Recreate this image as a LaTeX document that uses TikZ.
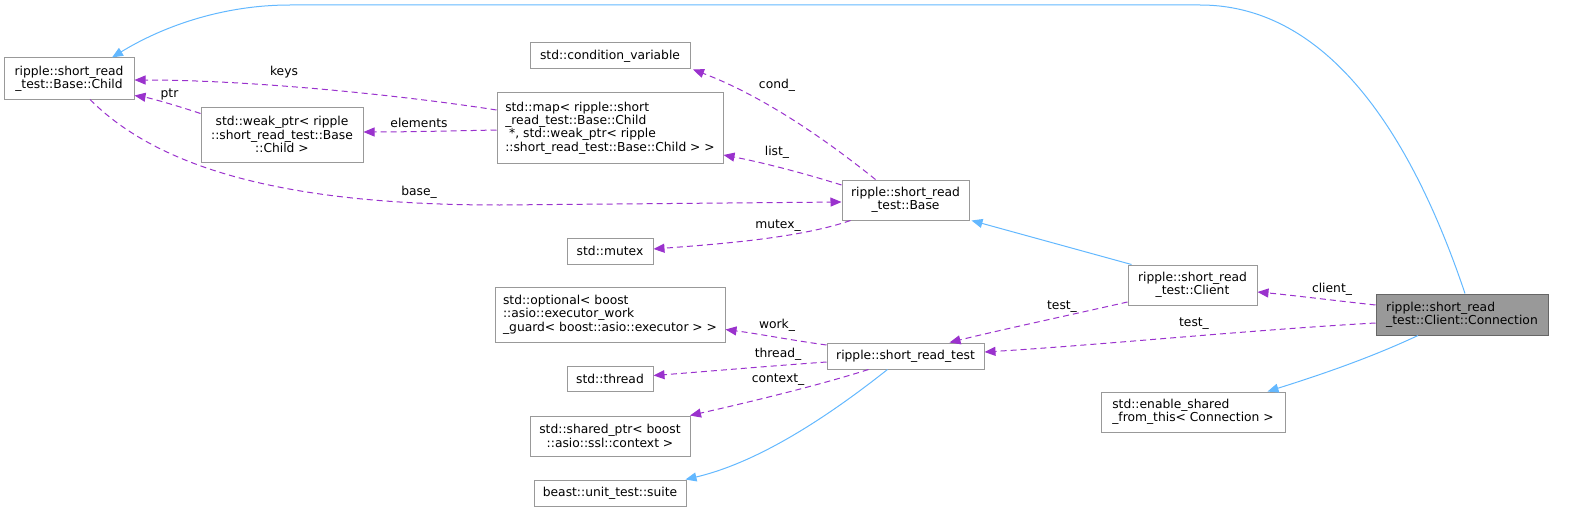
\documentclass[tikz,border=0pt]{standalone}
\usepackage{fontspec}
\setmainfont{DejaVu Sans}
\usetikzlibrary{arrows.meta}
\definecolor{inh}{HTML}{63B8FF}
\definecolor{mem}{HTML}{9A32CD}
\definecolor{bord}{HTML}{999999}
\definecolor{connfill}{HTML}{999999}
\definecolor{connbord}{HTML}{666666}
\begin{document}
\begin{tikzpicture}[x=1pt,y=-1pt,
  box/.style 2 args={draw=bord, line width=1pt, fill=white, inner sep=0pt,
    minimum width=#1pt, minimum height=#2pt, align=center,
    font=\fontsize{12.3}{13.4}\selectfont},
  lbox/.style 2 args={box={#1}{#2}, align=left},
  lbl/.style={inner sep=0pt, font=\fontsize{12.3}{13.4}\selectfont},
  inhedge/.style={draw=inh, line width=1pt, -{Triangle[length=11pt,width=9pt]}},
  memedge/.style={draw=mem, line width=1pt, dash pattern=on 6pt off 4pt,
    -{Triangle[length=11pt,width=9pt]}},
]
\useasboundingbox (0,0) rectangle (1583,511);

% nodes
\node[box={130}{41}] (child) at (69,78.5) {ripple::short\_read\\\_test::Base::Child};
\node[box={162}{55}] (weak) at (282,134.5) {std::weak\_ptr< ripple\\::short\_read\_test::Base\\::Child >};
\node[box={160}{26}] (cv) at (610,56) {std::condition\_variable};
\node[lbox={226}{70}] (map) at (610,128) {std::map< ripple::short\\\_read\_test::Base::Child\\\ *, std::weak\_ptr< ripple\\::short\_read\_test::Base::Child > >};
\node[box={127}{40}] (base) at (905.5,200) {ripple::short\_read\\\_test::Base};
\node[box={86}{26}] (mutex) at (610,251) {std::mutex};
\node[lbox={230}{55}] (opt) at (610,314.5) {std::optional< boost\\::asio::executor\_work\\\_guard< boost::asio::executor > >};
\node[box={157}{26}] (srt) at (905.5,356) {ripple::short\_read\_test};
\node[box={86}{25}] (thread) at (610,378.5) {std::thread};
\node[box={160}{40}] (shared) at (610,436) {std::shared\_ptr< boost\\::asio::ssl::context >};
\node[box={152}{26}] (suite) at (610,493) {beast::unit\_test::suite};
\node[box={129}{40}] (client) at (1192.5,285) {ripple::short\_read\\\_test::Client};
\node[lbox={172}{41}, fill=connfill, draw=connbord] (conn) at (1462,314.5) {ripple::short\_read\\\_test::Client::Connection};
\node[lbox={184}{40}] (esft) at (1193,412) {std::enable\_shared\\\_from\_this< Connection >};

% inheritance edges
\draw[inhedge] ([xshift=3pt]conn.north) .. controls (1420,160) and (1340,5) .. (1200,5)
  -- (290,5) .. controls (220,5) and (160,28) .. ([xshift=43pt]child.north);
\draw[inhedge] ([xshift=4pt]client.north west) -- ([xshift=2pt]base.south east);
\draw[inhedge] ([xshift=-18pt]srt.south) .. controls (830,415) and (760,462) .. ([xshift=-1pt]suite.north east);
\draw[inhedge] ([xshift=-44pt]conn.south) .. controls (1370,358) and (1320,375) .. ([xshift=-18pt]esft.north east);

% member edges
\draw[memedge] ([yshift=18pt]map.west) .. controls (400,95) and (250,80) .. ([yshift=-1.5pt]child.east);
\draw[memedge] ([yshift=21pt]weak.west) .. controls (175,105) and (150,98) .. ([yshift=4pt]child.south east);
\draw[memedge] ([yshift=-2pt]map.west) .. controls (450,131) and (400,132) .. ([yshift=2.5pt]weak.east);
\draw[memedge] ([xshift=21pt]child.south) .. controls (170,180) and (320,205) .. (500,205) -- ([yshift=-2pt]base.west);
\draw[memedge] ([xshift=-30pt]base.north) .. controls (820,135) and (760,95) .. ([xshift=83pt]cv.south);
\draw[memedge] ([yshift=15pt]base.west) .. controls (800,172) and (760,162) .. ([yshift=-27pt]map.east);
\draw[memedge] ([xshift=-55pt]base.south) .. controls (800,238) and (720,244) .. ([yshift=2pt]mutex.east);
\draw[memedge] ([yshift=11pt]srt.west) .. controls (790,340) and (760,334) .. ([yshift=-15pt]opt.east);
\draw[memedge] ([yshift=-6pt]srt.west) .. controls (770,366) and (700,372) .. ([yshift=3pt]thread.east);
\draw[memedge] ([xshift=-37pt]srt.south) .. controls (820,385) and (750,402) .. ([xshift=80pt]shared.north);
\draw[memedge] ([yshift=-17pt]client.west) .. controls (1070,315) and (1000,330) .. ([xshift=44pt]srt.north);
\draw[memedge] ([yshift=-8.5pt]conn.west) .. controls (1250,330) and (1100,345) .. ([yshift=4pt]srt.east);
\draw[memedge] ([yshift=9.5pt]conn.west) .. controls (1330,300) and (1290,295) .. ([yshift=-7pt]client.east);

% labels
\node[lbl] (lkeys) at (284,72.5) {keys};
\node[lbl] (lptr) at (169.5,94) {ptr};
\node[lbl] (lelem) at (419,123) {elements};
\node[lbl] (lbase) at (419,192) {base\_};
\node[lbl] (lcond) at (777,85) {cond\_};
\node[lbl] (llist) at (777,152.5) {list\_};
\node[lbl] (lmutex) at (778,226) {mutex\_};
\node[lbl] (lwork) at (777,325) {work\_};
\node[lbl] (lthread) at (778,354) {thread\_};
\node[lbl] (lctx) at (778,379.5) {context\_};
\node[lbl] (ltest1) at (1062,307) {test\_};
\node[lbl] (ltest2) at (1194,324) {test\_};
\node[lbl] (lclient) at (1332,289) {client\_};
\end{tikzpicture}
\end{document}
